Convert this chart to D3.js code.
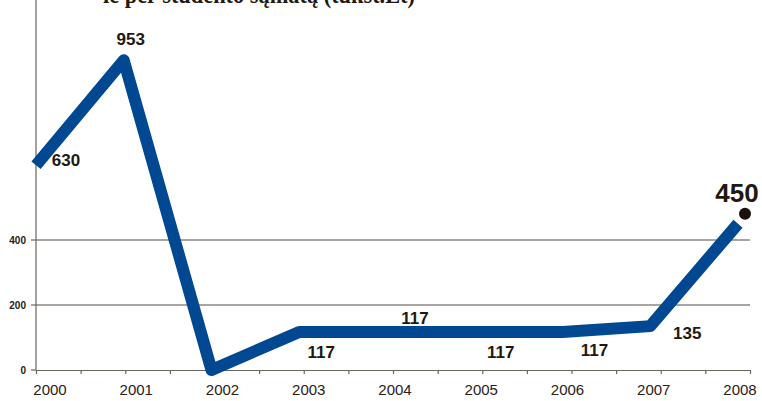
<!DOCTYPE html>
<html lang="lt">
<head>
<meta charset="utf-8">
<title>Chart</title>
<script src="https://cdn.jsdelivr.net/npm/d3@7"></script>
<style>
body { margin: 0; background: #fff; }
.grid line { stroke: #8c8680; stroke-width: 1.5px; }
.axis path, .axis line { stroke: #6b6560; stroke-width: 1.2px; fill: none; }
.year { font-family: "Liberation Sans Narrow", "Arial Narrow", sans-serif; font-size: 15px; fill: #2a2018; }
.ylab { font-family: "Liberation Sans", Arial, sans-serif; font-size: 10px; font-weight: bold; fill: #2a2018; }
.val { font-family: "Liberation Sans", Arial, sans-serif; font-size: 17px; font-weight: bold; fill: #221810; }
</style>
</head>
<body>
<svg width="762" height="401"></svg>
<script>
var years = [2000, 2001, 2002, 2003, 2004, 2005, 2006, 2007, 2008];
var values = [630, 953, 0, 117, 117, 117, 117, 135, 450];
var yTicks = [0, 200, 400];
var valueLabels = ["630", "953", "117", "117", "117", "117", "135", "450"];

var svg = d3.select("svg");

var y = d3.scaleLinear().domain([0, 400]).range([370, 240]);
var xTick = d3.scaleLinear().domain([2000, 2008]).range([36, 750]);
var xLine = d3.scaleLinear().domain([2000, 2008]).range([36, 738]);
var xLab = d3.scaleLinear().domain([2000, 2008]).range([50, 740]);

// title (cut off at the top, as in the original)
svg.append("text")
    .attr("x", 103).attr("y", 3)
    .attr("textLength", 312)
    .attr("lengthAdjust", "spacingAndGlyphs")
    .style("font-family", "'Liberation Serif', 'DejaVu Serif', serif")
    .style("font-size", "26px").style("font-weight", "bold").style("fill", "#221810")
    .text("ie per studento sąmatą (tūkst.Lt)");

// gridlines
svg.append("g").attr("class", "grid")
  .selectAll("line").data(yTicks.filter(function(d) { return d > 0; }))
  .enter().append("line")
    .attr("x1", 36).attr("x2", 750)
    .attr("y1", function(d) { return y(d); })
    .attr("y2", function(d) { return y(d); });

// y axis
svg.append("line")
    .attr("x1", 36).attr("x2", 36).attr("y1", 0).attr("y2", 370)
    .style("stroke", "#6b6560").style("stroke-width", 1.2);

svg.append("g").selectAll("text").data(yTicks)
  .enter().append("text").attr("class", "ylab")
    .attr("x", 26).attr("y", function(d) { return y(d) + 4; })
    .attr("text-anchor", "end")
    .text(function(d) { return d; });
svg.append("g").selectAll("line").data(yTicks)
  .enter().append("line")
    .attr("x1", 31).attr("x2", 36)
    .attr("y1", function(d) { return y(d); }).attr("y2", function(d) { return y(d); })
    .style("stroke", "#6b6560").style("stroke-width", 1.2);

// x axis with half-year ticks
var halfTicks = d3.range(2000, 2008.01, 0.5);
svg.append("g").attr("class", "axis")
    .attr("transform", "translate(0,370)")
    .call(d3.axisBottom(xTick).tickValues(halfTicks).tickSize(4).tickSizeOuter(0).tickFormat(""));

svg.append("g").selectAll("text").data(years)
  .enter().append("text").attr("class", "year")
    .attr("x", function(d) { return xLab(d); }).attr("y", 395)
    .attr("text-anchor", "middle")
    .text(function(d) { return d; });

// line
var line = d3.line()
    .x(function(d, i) { return xLine(years[i]); })
    .y(function(d) { return y(d); });

svg.append("path").datum(values)
    .attr("d", line)
    .style("fill", "none").style("stroke", "#004892").style("stroke-width", 12)
    .style("stroke-linejoin", "round").style("stroke-linecap", "butt");

// end dot
svg.append("circle")
    .attr("cx", xLine(2008) + 7).attr("cy", y(450) - 10).attr("r", 6)
    .style("fill", "#1a120a");

// value labels
var labelPos = [
  {i: 0, dx: 30, dy: 1},
  {i: 1, dx: 7, dy: -15},
  {i: 3, dx: 22, dy: 26},
  {i: 4, dx: 28, dy: -8},
  {i: 5, dx: 26, dy: 26},
  {i: 6, dx: 32, dy: 24},
  {i: 7, dx: 37, dy: 13},
  {i: 8, dx: -1, dy: -22}
];
svg.append("g").selectAll("text").data(labelPos)
  .enter().append("text").attr("class", "val")
    .attr("x", function(d) { return xLine(years[d.i]) + d.dx; })
    .attr("y", function(d) { return y(values[d.i]) + d.dy; })
    .attr("text-anchor", "middle")
    .style("font-size", function(d, k) { return k === 7 ? "26px" : null; })
    .text(function(d, k) { return valueLabels[k]; });
</script>
</body>
</html>
